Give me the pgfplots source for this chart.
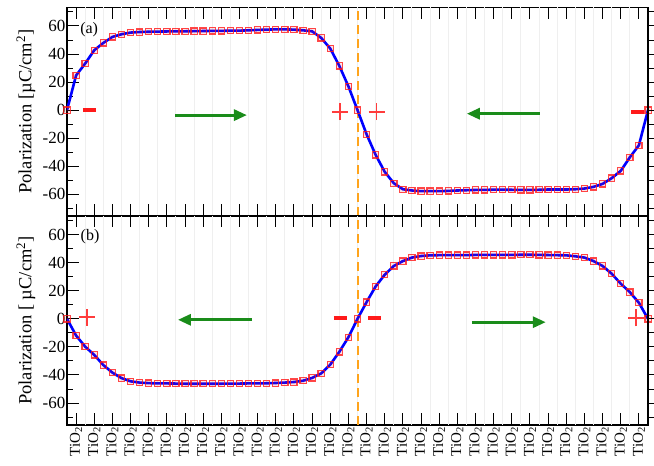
\documentclass[border=0pt]{standalone}
\usepackage{fontspec}
\setmainfont{Liberation Serif}
\usepackage{pgfplots}
\usepackage{pgfplotstable}
\pgfplotsset{compat=1.18}
\usetikzlibrary{arrows.meta}
\definecolor{pol}{HTML}{0000FF}
\definecolor{sqc}{HTML}{FF1A1A}
\definecolor{plusc}{HTML}{FF3C3C}
\definecolor{arr}{HTML}{1A8C1A}
\definecolor{dashc}{HTML}{FFA41C}
\definecolor{gridc}{HTML}{EFEFEF}

\pgfplotstableread{
x y
-0.5 0
0 24.7
0.5 33.2
1 42.7
1.5 47.9
2 52.2
2.5 54.1
3 55.3
3.5 55.7
4 55.9
4.5 56.0
5 56.1
5.5 56.2
6 56.2
6.5 56.3
7 56.4
7.5 56.5
8 56.5
8.5 56.7
9 56.7
9.5 56.9
10 57.2
10.5 57.4
11 57.6
11.5 57.6
12 57.4
12.5 56.9
13 56.2
13.5 51.5
14 43.9
14.5 31.5
15 16.9
15.5 0
16 -17.3
16.5 -32.0
17 -44.1
17.5 -52.2
18 -56.5
18.5 -57.4
19 -57.9
19.5 -57.9
20 -57.9
20.5 -57.7
21 -57.4
21.5 -57.2
22 -57.0
22.5 -57.0
23 -56.8
23.5 -56.8
24 -56.9
24.5 -57.0
25 -57.0
25.5 -56.9
26 -56.7
26.5 -56.7
27 -56.7
27.5 -56.5
28 -56.0
28.5 -54.8
29 -52.7
29.5 -48.6
30 -43.4
30.5 -33.7
31 -25.1
31.5 0
}\tablea

\pgfplotstableread{
x y
-0.5 0
0 -11.9
0.5 -19.8
1 -25.7
1.5 -32.9
2 -38.3
2.5 -42.2
3 -44.5
3.5 -45.4
4 -45.8
4.5 -46.0
5 -46.0
5.5 -46.1
6 -46.2
6.5 -46.2
7 -46.2
7.5 -46.2
8 -46.2
8.5 -46.1
9 -46.1
9.5 -46.0
10 -46.0
10.5 -45.9
11 -45.7
11.5 -45.4
12 -45.0
12.5 -44.1
13 -42.1
13.5 -38.9
14 -32.6
14.5 -23.5
15 -13.1
15.5 0
16 11.9
16.5 23.1
17 31.4
17.5 37.6
18 41.1
18.5 43.6
19 44.7
19.5 45.2
20 45.3
20.5 45.3
21 45.3
21.5 45.3
22 45.5
22.5 45.5
23 45.5
23.5 45.5
24 45.5
24.5 45.6
25 45.6
25.5 45.5
26 45.4
26.5 45.3
27 45.2
27.5 44.5
28 43.6
28.5 41.1
29 37.6
29.5 32.1
30 25.0
30.5 19.0
31 11.4
31.5 0
}\tableb

% plus and minus signs of the bound charges
\newcommand{\plusat}[2]{%
  \draw[plusc, line width=1.8pt] ([xshift=-8pt]axis cs:#1,#2) -- ([xshift=8pt]axis cs:#1,#2);
  \draw[plusc, line width=1.8pt] ([yshift=-8.5pt]axis cs:#1,#2) -- ([yshift=8.5pt]axis cs:#1,#2);}
\newcommand{\minusat}[3]{\draw[sqc, line width=3.6pt] (axis cs:#1,#3) -- (axis cs:#2,#3);}

\tikzset{
  marr/.style={arr, line width=3pt, -{Triangle[length=13pt,width=11pt]}},
  vdash/.style={dashc, line width=2pt, dash pattern=on 9pt off 5pt},
}
\pgfplotsset{
  frame/.style={
    width=581pt, scale only axis,
    xmin=-0.5, xmax=31.5, ymin=-75.6, ymax=73.2,
    ytick={-60,-40,...,60}, minor ytick={-70,-50,...,70},
    major tick length=11.5pt, minor tick length=5.5pt,
    every tick/.style={black, line width=1pt},
    axis line style={line width=1.3pt},
  },
  panel/.style={frame,
    xtick={0,...,31}, ytick pos=left,
    yticklabels={-60,-40,-20,0,20,40,60},
    tick align=inside,
    yticklabel style={font=\fontsize{17}{17}\selectfont, inner sep=1.5pt},
    extra x ticks={0.5,1.5,...,30.5}, extra x tick labels={},
    extra x tick style={grid=major, major grid style={draw=gridc, line width=1pt}, major tick length=0pt},
    ylabel style={font=\fontsize{18.5}{18.5}\selectfont, at={(axis description cs:-0.0706,0.5)}, anchor=center},
  },
  rside/.style={frame, hide x axis, axis y line*=right, tick align=outside,
    yticklabels={}},
  curve/.style={pol, line width=2.6pt, no marks},
  pts/.style={only marks, mark=square*, mark size=3.1pt,
    mark options={draw=sqc, line width=1.2pt, draw opacity=0.8, fill=sqc, fill opacity=0.12}},
}

\begin{document}
\begin{tikzpicture}
\path[use as bounding box] (0,0) rectangle (654pt,466pt);

\begin{axis}[panel, at={(67pt,250pt)}, anchor=south west, height=208.5pt, xticklabels={},
  ylabel={Polarization [µC/cm\textsuperscript{2}]}]
\draw[vdash] (axis cs:15.5,-75.6) -- (axis cs:15.5,73.2);
\addplot[curve] table {\tablea};
\addplot[pts] table {\tablea};
\node[font=\fontsize{16}{16}\selectfont] at (axis cs:0.72,57.7) {(a)};
\minusat{0.37}{1.1}{0}
\draw[marr] (axis cs:5.45,-3.6) -- (axis cs:9.41,-3.6);
\plusat{14.53}{-1.2}
\plusat{16.55}{-1.2}
\draw[marr] (axis cs:25.54,-2.6) -- (axis cs:21.52,-2.6);
\minusat{30.55}{31.26}{-1.2}
\end{axis}
\begin{axis}[rside, at={(67pt,250pt)}, anchor=south west, height=208.5pt]
\end{axis}

\begin{axis}[panel, at={(67pt,41pt)}, anchor=south west, height=209pt,
  xticklabel={TiO\textsubscript{2}},
  xticklabel style={rotate=90, anchor=east, font=\fontsize{15}{15}\selectfont, inner sep=2pt},
  ylabel={Polarization [ µC/cm\textsuperscript{2}]}]
\draw[vdash] (axis cs:15.5,-75.6) -- (axis cs:15.5,73.2);
\addplot[curve] table {\tableb};
\addplot[pts] table {\tableb};
\node[font=\fontsize{16}{16}\selectfont] at (axis cs:0.77,58.3) {(b)};
\plusat{0.62}{1.1}
\draw[marr] (axis cs:9.69,-0.7) -- (axis cs:5.61,-0.7);
\minusat{14.2}{14.9}{0.4}
\minusat{16.1}{16.8}{0.4}
\draw[marr] (axis cs:21.8,-2.4) -- (axis cs:25.87,-2.4);
\plusat{30.86}{0.7}
\end{axis}
\begin{axis}[rside, at={(67pt,41pt)}, anchor=south west, height=209pt]
\end{axis}
\end{tikzpicture}
\end{document}
